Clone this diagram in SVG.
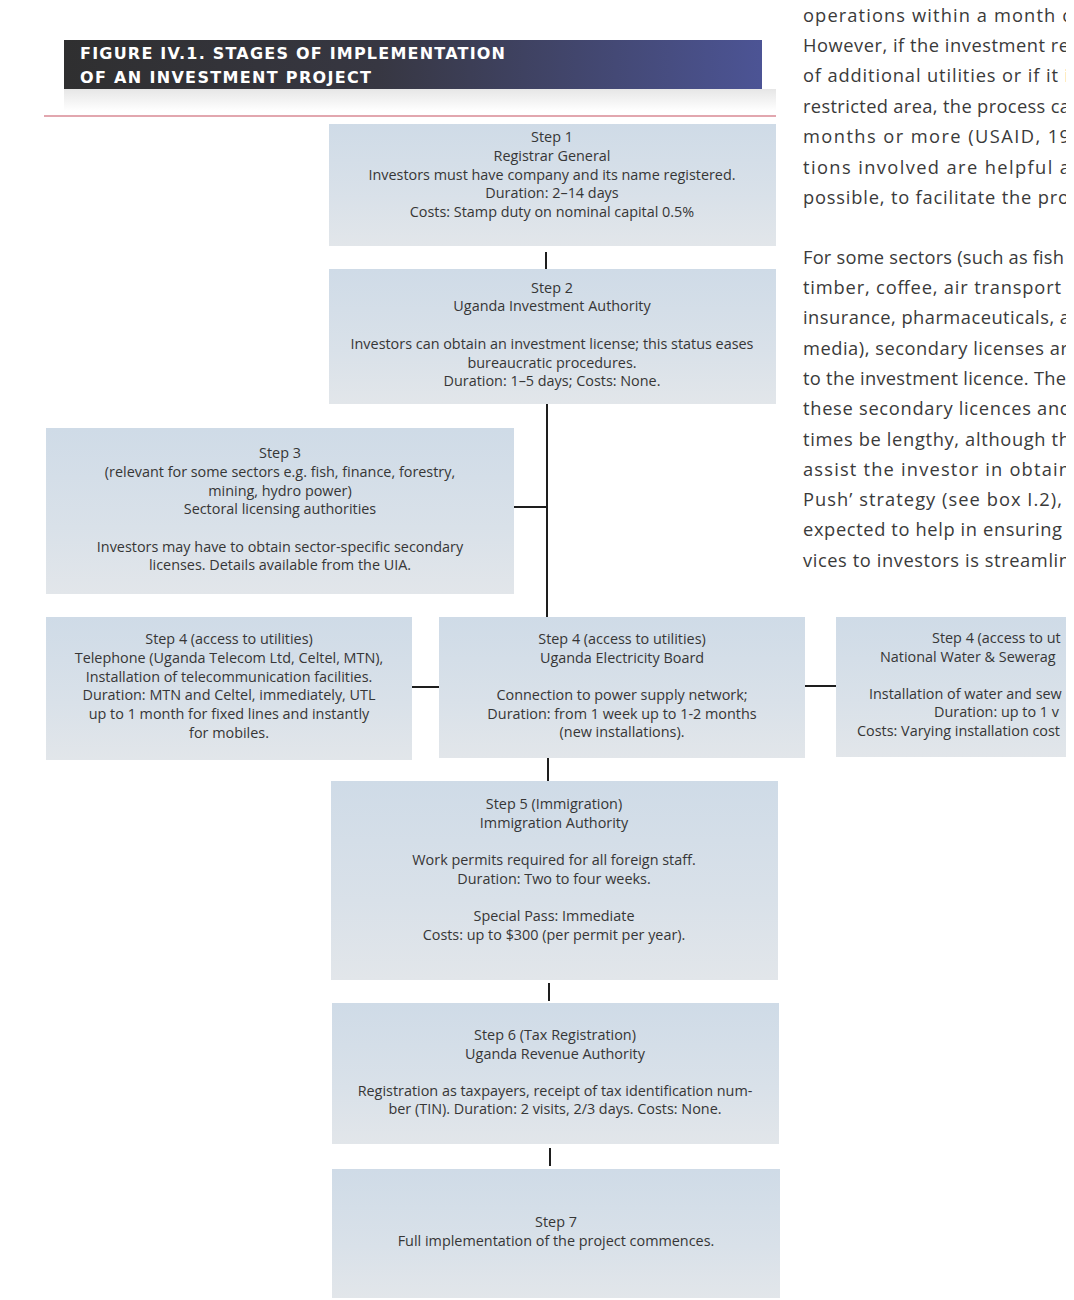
<svg xmlns="http://www.w3.org/2000/svg" width="1074" height="1300" viewBox="0 0 1074 1300">
<defs>
<linearGradient id="boxg" x1="0" y1="0" x2="0" y2="1">
<stop offset="0" stop-color="#cfdbe7"/>
<stop offset="0.6" stop-color="#d9e1e9"/>
<stop offset="1" stop-color="#e2e6ea"/>
</linearGradient>
<linearGradient id="titleg" x1="0" y1="0" x2="1" y2="0">
<stop offset="0" stop-color="#2f2f30"/>
<stop offset="0.45" stop-color="#373742"/>
<stop offset="1" stop-color="#4c5495"/>
</linearGradient>
<linearGradient id="shadowg" x1="0" y1="0" x2="0" y2="1">
<stop offset="0" stop-color="#e6e6e6"/>
<stop offset="1" stop-color="#ffffff"/>
</linearGradient>
<clipPath id="page"><rect x="0" y="0" width="1066" height="1300"/></clipPath>
</defs>
<style>
.box{fill:url(#boxg);}
.t{font-family:"Open Sans","Liberation Sans",sans-serif;font-size:14.4px;fill:#363636;text-anchor:middle;}
.tl{font-family:"Open Sans","Liberation Sans",sans-serif;font-size:14.4px;fill:#363636;}
.body{font-family:"Open Sans","Liberation Sans",sans-serif;font-size:18.3px;fill:#3a3a3a;}
.title{font-family:"DejaVu Sans","Liberation Sans",sans-serif;font-size:16px;font-weight:bold;fill:#ffffff;}
.conn{stroke:#1e1e1e;stroke-width:2;fill:none;}
</style>
<rect x="0" y="0" width="1074" height="1300" fill="#ffffff"/>

<g id="title">
<rect x="64" y="89" width="712" height="22" fill="url(#shadowg)"/>
<rect x="64" y="40" width="698" height="49" fill="url(#titleg)"/>
<text class="title" x="80" y="59" textLength="425" lengthAdjust="spacing">FIGURE IV.1. STAGES OF IMPLEMENTATION</text>
<text class="title" x="80" y="83" textLength="291" lengthAdjust="spacing">OF AN INVESTMENT PROJECT</text>
<line x1="44" y1="116" x2="776" y2="116" stroke="#d98a94" stroke-width="1.5"/>
</g>

<g id="bodytext" clip-path="url(#page)">
<text class="body" x="803" y="22" textLength="268" lengthAdjust="spacing">operations within a month c</text>
<text class="body" x="803" y="52" textLength="266" lengthAdjust="spacing">However, if the investment re</text>
<text class="body" x="803" y="82" textLength="266" lengthAdjust="spacing">of additional utilities or if it i</text>
<text class="body" x="803" y="113" textLength="267" lengthAdjust="spacing">restricted area, the process ca</text>
<text class="body" x="803" y="143" textLength="267" lengthAdjust="spacing">months or more (USAID, 19</text>
<text class="body" x="803" y="174" textLength="267" lengthAdjust="spacing">tions involved are helpful a</text>
<text class="body" x="803" y="204" textLength="266" lengthAdjust="spacing">possible, to facilitate the pro</text>
<text class="body" x="803" y="264" textLength="261" lengthAdjust="spacing">For some sectors (such as fish</text>
<text class="body" x="803" y="294" textLength="258" lengthAdjust="spacing">timber, coffee, air transport</text>
<text class="body" x="803" y="324" textLength="267" lengthAdjust="spacing">insurance, pharmaceuticals, a</text>
<text class="body" x="803" y="355" textLength="265" lengthAdjust="spacing">media), secondary licenses ar</text>
<text class="body" x="803" y="385" textLength="263" lengthAdjust="spacing">to the investment licence. The</text>
<text class="body" x="803" y="415" textLength="268" lengthAdjust="spacing">these secondary licences and</text>
<text class="body" x="803" y="446" textLength="267" lengthAdjust="spacing">times be lengthy, although th</text>
<text class="body" x="803" y="476" textLength="267" lengthAdjust="spacing">assist the investor in obtain</text>
<text class="body" x="803" y="506" textLength="259" lengthAdjust="spacing">Push’ strategy (see box I.2),</text>
<text class="body" x="803" y="536" textLength="259" lengthAdjust="spacing">expected to help in ensuring</text>
<text class="body" x="803" y="567" textLength="267" lengthAdjust="spacing">vices to investors is streamlin</text>
</g>

<g id="connectors">
<line class="conn" x1="546" y1="252" x2="546" y2="269"/>
<line class="conn" x1="547" y1="404" x2="547" y2="617"/>
<line class="conn" x1="514" y1="507" x2="547" y2="507"/>
<line class="conn" x1="412" y1="687" x2="439" y2="687"/>
<line class="conn" x1="805" y1="686" x2="836" y2="686"/>
<line class="conn" x1="548" y1="758" x2="548" y2="781"/>
<line class="conn" x1="549" y1="983" x2="549" y2="1001"/>
<line class="conn" x1="550" y1="1148" x2="550" y2="1166"/>
</g>

<g id="step1">
<rect class="box" x="329" y="124" width="447" height="122"/>
<text class="t" x="552" y="142">Step 1</text>
<text class="t" x="552" y="161">Registrar General</text>
<text class="t" x="552" y="180">Investors must have company and its name registered.</text>
<text class="t" x="552" y="198">Duration: 2–14 days</text>
<text class="t" x="552" y="217">Costs: Stamp duty on nominal capital 0.5%</text>
</g>

<g id="step2">
<rect class="box" x="329" y="269" width="447" height="135"/>
<text class="t" x="552" y="293">Step 2</text>
<text class="t" x="552" y="311">Uganda Investment Authority</text>
<text class="t" x="552" y="349">Investors can obtain an investment license; this status eases</text>
<text class="t" x="552" y="368">bureaucratic procedures.</text>
<text class="t" x="552" y="386">Duration: 1–5 days; Costs: None.</text>
</g>

<g id="step3">
<rect class="box" x="46" y="428" width="468" height="166"/>
<text class="t" x="280" y="458">Step 3</text>
<text class="t" x="280" y="477">(relevant for some sectors e.g. fish, finance, forestry,</text>
<text class="t" x="280" y="496">mining, hydro power)</text>
<text class="t" x="280" y="514">Sectoral licensing authorities</text>
<text class="t" x="280" y="552">Investors may have to obtain sector-specific secondary</text>
<text class="t" x="280" y="570">licenses. Details available from the UIA.</text>
</g>

<g id="step4a">
<rect class="box" x="46" y="617" width="366" height="143"/>
<text class="t" x="229" y="644">Step 4 (access to utilities)</text>
<text class="t" x="229" y="663">Telephone (Uganda Telecom Ltd, Celtel, MTN),</text>
<text class="t" x="229" y="682">Installation of telecommunication facilities.</text>
<text class="t" x="229" y="700">Duration: MTN and Celtel, immediately, UTL</text>
<text class="t" x="229" y="719">up to 1 month for fixed lines and instantly</text>
<text class="t" x="229" y="738">for mobiles.</text>
</g>

<g id="step4b">
<rect class="box" x="439" y="617" width="366" height="141"/>
<text class="t" x="622" y="644">Step 4 (access to utilities)</text>
<text class="t" x="622" y="663">Uganda Electricity Board</text>
<text class="t" x="622" y="700">Connection to power supply network;</text>
<text class="t" x="622" y="719">Duration: from 1 week up to 1-2 months</text>
<text class="t" x="622" y="737">(new installations).</text>
</g>

<g id="step4c" clip-path="url(#page)">
<rect class="box" x="836" y="617" width="366" height="140"/>
<text class="tl" x="932" y="643">Step 4 (access to ut</text>
<text class="tl" x="880" y="662">National Water &amp; Sewerag</text>
<text class="tl" x="869" y="699">Installation of water and sew</text>
<text class="tl" x="934" y="717">Duration: up to 1 v</text>
<text class="tl" x="857" y="736">Costs: Varying installation cost</text>
</g>

<g id="step5">
<rect class="box" x="331" y="781" width="447" height="199"/>
<text class="t" x="554" y="809">Step 5 (Immigration)</text>
<text class="t" x="554" y="828">Immigration Authority</text>
<text class="t" x="554" y="865">Work permits required for all foreign staff.</text>
<text class="t" x="554" y="884">Duration: Two to four weeks.</text>
<text class="t" x="554" y="921">Special Pass: Immediate</text>
<text class="t" x="554" y="940">Costs: up to $300 (per permit per year).</text>
</g>

<g id="step6">
<rect class="box" x="332" y="1003" width="447" height="141"/>
<text class="t" x="555" y="1040">Step 6 (Tax Registration)</text>
<text class="t" x="555" y="1059">Uganda Revenue Authority</text>
<text class="t" x="555" y="1096">Registration as taxpayers, receipt of tax identification num-</text>
<text class="t" x="555" y="1114">ber (TIN). Duration: 2 visits, 2/3 days. Costs: None.</text>
</g>

<g id="step7">
<rect class="box" x="332" y="1169" width="448" height="129"/>
<text class="t" x="556" y="1227">Step 7</text>
<text class="t" x="556" y="1246">Full implementation of the project commences.</text>
</g>
</svg>
